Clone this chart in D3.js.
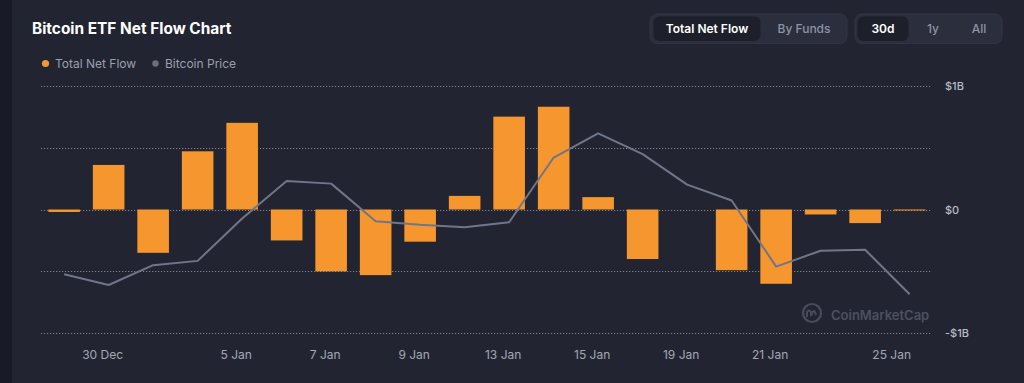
<!DOCTYPE html>
<meta charset="utf-8">
<style>
body { margin: 0; background: #222531; }
svg { display: block; font-family: Inter, "Noto Sans", sans-serif; }
.grid line { stroke: #80848f; stroke-width: 1px; stroke-dasharray: 1.2,1.8; }
.ylab { fill: #b8bcc8; font-size: 11px; font-weight: 500; }
.xlab { fill: #a3a7b4; font-size: 12px; }
.legend { fill: #9a9fb0; font-size: 12px; }
</style>
<body>
<div id="chart"></div>
<script src="https://cdn.jsdelivr.net/npm/d3@7"></script>
<script>

var dates = ["27 Dec", "30 Dec", "31 Dec", "2 Jan", "5 Jan", "6 Jan", "7 Jan", "8 Jan", "9 Jan", "10 Jan",
             "13 Jan", "14 Jan", "15 Jan", "17 Jan", "19 Jan", "20 Jan", "21 Jan", "22 Jan", "23 Jan", "25 Jan"];

// net flow, $M
var netFlow = [-20, 360, -350, 470, 700, -250, -500, -530, -260, 110,
               750, 830, 100, -400, 0, -490, -600, -40, -110, -8];

// bitcoin price, USD
var btcPrice = [92770, 91900, 93500, 93850, 97270, 100300, 100090, 97050, 96760, 96560,
                96970, 102200, 104150, 102470, 100010, 98730, 93390, 94670, 94750, 91150];

var xTickLabels = ["30 Dec", "5 Jan", "7 Jan", "9 Jan", "13 Jan", "15 Jan", "19 Jan", "21 Jan", "25 Jan"];

var yTicks = [-1000, -500, 0, 500, 1000];
var yTickLabels = {"-1000": "-$1B", "0": "$0", "1000": "$1B"};

var width = 1024,
    height = 383;

var svg = d3.select("#chart").append("svg")
    .attr("width", width)
    .attr("height", height);

// outer frame
svg.append("rect").attr("width", width).attr("height", height).attr("fill", "#222531");
svg.append("rect").attr("x", 0).attr("y", 0).attr("width", 12).attr("height", height).attr("fill", "#171a27");

// title
svg.append("text")
    .attr("x", 32).attr("y", 34)
    .attr("fill", "#ffffff")
    .style("font-size", "15.4px")
    .style("font-weight", 700)
    .text("Bitcoin ETF Net Flow Chart");

// legend
svg.append("circle").attr("cx", 45.5).attr("cy", 63.5).attr("r", 3.6).attr("fill", "#f6962e");
svg.append("text").attr("class", "legend").attr("x", 55).attr("y", 67.5).text("Total Net Flow");
svg.append("circle").attr("cx", 155.5).attr("cy", 63.5).attr("r", 3.2).attr("fill", "#6b7080");
svg.append("text").attr("class", "legend").attr("x", 165).attr("y", 67.5).text("Bitcoin Price");

// toggle buttons
function buttonGroup(x0, x1, items, pillW) {
    svg.append("rect")
        .attr("x", x0).attr("y", 14).attr("width", x1 - x0).attr("height", 29.5)
        .attr("rx", 7).attr("fill", "#2b2e3d").attr("stroke", "#313445");
    items.forEach(function(it) {
        if (it.active) {
            svg.append("rect")
                .attr("x", it.cx - pillW / 2).attr("y", 16.5).attr("width", pillW).attr("height", 24.5)
                .attr("rx", 6).attr("fill", "#1d1f2b");
        }
        svg.append("text")
            .attr("x", it.cx).attr("y", 33)
            .attr("text-anchor", "middle")
            .attr("fill", it.active ? "#ffffff" : "#8e93a3")
            .style("font-size", "12px")
            .style("font-weight", it.active ? 600 : 500)
            .text(it.label);
    });
}
buttonGroup(650, 847, [
    {label: "Total Net Flow", cx: 707, active: true},
    {label: "By Funds", cx: 804, active: false}
], 107);
buttonGroup(855, 1002, [
    {label: "30d", cx: 883, active: true},
    {label: "1y", cx: 933, active: false},
    {label: "All", cx: 979, active: false}
], 51);

// scales
var x = d3.scaleBand()
    .domain(dates)
    .range([41.9, 931.9])
    .paddingInner(0.29)
    .paddingOuter(0.145);

var y = d3.scaleLinear()
    .domain([-1000, 1000])
    .range([333.3, 85.7]);

var yPrice = d3.scaleLinear()
    .domain([88000, 108000])
    .range([333.3, 85.7]);

// grid
svg.append("g").attr("class", "grid")
    .selectAll("line")
    .data(yTicks)
    .enter()
    .append("line")
    .attr("x1", 41).attr("x2", 932)
    .attr("y1", function(d) { return Math.round(y(d)) + 0.5; })
    .attr("y2", function(d) { return Math.round(y(d)) + 0.5; });

// y labels
svg.selectAll("text.ylab")
    .data(yTicks.filter(function(d) { return yTickLabels[d]; }))
    .enter()
    .append("text")
    .attr("class", "ylab")
    .attr("x", 945)
    .attr("y", function(d) { return y(d) + 4; })
    .text(function(d) { return yTickLabels[d]; });

// watermark
var wm = svg.append("g").attr("transform", "translate(812,313)").attr("opacity", 0.9);
wm.append("circle").attr("r", 9).attr("fill", "none").attr("stroke", "#4c5061").attr("stroke-width", 2.2);
wm.append("path")
    .attr("d", "M-5,4 L-5,-1 Q-3,-4 -1,-1 L-1,3 Q1,-4 3,-1 L4,2")
    .attr("fill", "none").attr("stroke", "#4c5061").attr("stroke-width", 2);
svg.append("text")
    .attr("x", 831).attr("y", 320)
    .attr("fill", "#4c5061")
    .style("font-size", "13px")
    .style("font-weight", 600)
    .text("CoinMarketCap");

// bars
svg.selectAll("rect.bar")
    .data(netFlow)
    .enter()
    .append("rect")
    .attr("class", "bar")
    .attr("x", function(d, i) { return x(dates[i]); })
    .attr("width", x.bandwidth())
    .attr("y", function(d) { return y(Math.max(0, d)); })
    .attr("height", function(d) { return Math.abs(y(d) - y(0)); })
    .attr("fill", "#f6962e");

// price line
var line = d3.line()
    .x(function(d, i) { return x(dates[i]) + x.bandwidth() / 2; })
    .y(function(d) { return yPrice(d); });

svg.append("path")
    .datum(btcPrice)
    .attr("d", line)
    .attr("fill", "none")
    .attr("stroke", "#70768a")
    .attr("stroke-width", 2)
    .attr("stroke-linejoin", "round");

// x labels
svg.selectAll("text.xlab")
    .data(xTickLabels)
    .enter()
    .append("text")
    .attr("class", "xlab")
    .attr("text-anchor", "middle")
    .attr("y", 359)
    .text(function(d) { return d; })
    .attr("x", function(d) {
        var w = this.getComputedTextLength();
        var cx = x(d) + x.bandwidth() / 2 - 6;
        return Math.min(cx, 911 - w / 2);
    });

</script>
